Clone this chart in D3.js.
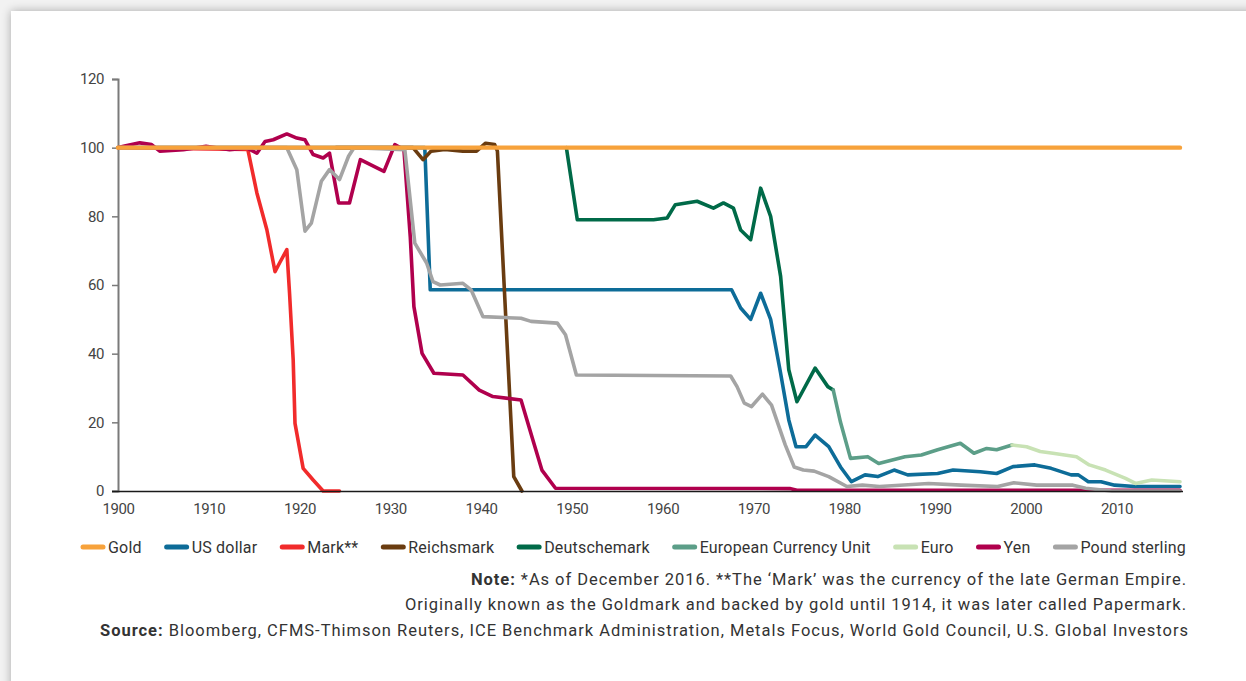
<!DOCTYPE html>
<html><head><meta charset="utf-8">
<script src="https://cdn.jsdelivr.net/npm/d3@7"></script>
<style>
html,body{margin:0;padding:0;background:#f2f2f2;overflow:hidden;}
#card{position:absolute;left:11px;top:11px;width:1300px;height:760px;background:#fff;box-shadow:0 0 9px rgba(0,0,0,0.3);}
svg{position:absolute;left:0;top:0;}
text{font-family:Roboto,"Open Sans",sans-serif;}
</style></head>
<body><div id="card"></div>
<svg id="chart" width="1246" height="681"></svg>
<script>
// ---- data ----
const years = [1900,1910,1920,1930,1940,1950,1960,1970,1980,1990,2000,2010];
const yTicks = [0,20,40,60,80,100,120];
const seriesNames = ["Gold","US dollar","Mark**","Reichsmark","Deutschemark","European Currency Unit","Euro","Yen","Pound sterling"];
const gold = [[1900,100],[2017,100]];
const usDollar = [[1900,100],[1933.8,100],[1934.4,58.6],[1967.6,58.6],[1968.6,53.3],[1969.7,50],[1970.8,57.6],[1971.9,50],[1973,34.3],[1973.9,20.7],[1974.7,12.9],[1975.8,12.9],[1976.8,16.3],[1978.3,12.9],[1979.6,7],[1980.8,2.7],[1982.3,4.7],[1983.7,4.2],[1985.5,6.1],[1987,4.7],[1990.3,5.1],[1992,6.1],[1995,5.6],[1996.8,5.1],[1998.6,7.1],[2001,7.6],[2002.8,6.6],[2005,4.7],[2005.8,4.7],[2006.9,2.7],[2008.3,2.7],[2009.8,1.7],[2012,1.3],[2017,1.3]];
const mark = [[1900,100],[1914.3,99.5],[1915.3,86.8],[1916.4,76.1],[1917.3,63.9],[1917.8,66.4],[1918.6,70.3],[1918.9,57.6],[1919.3,38.2],[1919.5,19.7],[1920.4,6.6],[1921.5,3.2],[1922.6,0],[1924.4,0]];
const reichsmark = [[1924,100],[1932.5,100],[1933.6,96.5],[1934.5,99],[1936,99.5],[1938,99],[1939.5,99],[1940.5,101.3],[1941.5,100.9],[1941.8,99],[1943.6,4.2],[1944.5,0]];
const deutschemark = [[1949.4,100],[1950.6,79],[1959,79],[1960.5,79.5],[1961.4,83.4],[1963.8,84.4],[1965.6,82.4],[1966.7,83.9],[1967.8,82.4],[1968.6,76],[1969.7,73.2],[1970.8,88.2],[1971.9,80],[1973,62.5],[1973.9,35.3],[1974.8,26],[1976.8,35.8],[1978.2,30.4],[1978.8,29.4]];
const ecu = [[1978.8,29.4],[1979.6,20],[1980.7,9.5],[1982.6,10],[1983.8,8],[1986.7,10],[1988.5,10.5],[1990.3,12],[1992.8,13.9],[1994.3,11],[1995.7,12.4],[1996.8,12],[1998.5,13.4]];
const euro = [[1998.5,13.4],[2000.1,12.9],[2001.6,11.5],[2003,11],[2005.6,10],[2007,7.6],[2008.8,6.1],[2011,3.7],[2012.1,2.2],[2013.9,3.2],[2017,2.7]];
const yen = [[1900,100],[1900.6,100.4],[1902.4,101.4],[1903.7,100.9],[1904.6,99],[1907.2,99.4],[1909.7,100.4],[1912.3,99.4],[1914.2,99.9],[1915.3,98.4],[1916.2,101.8],[1917.1,102.3],[1918.6,104],[1919.7,102.8],[1920.6,102.3],[1921.5,98],[1922.6,97],[1923.3,98.4],[1924.3,83.9],[1925.5,83.9],[1926.7,96.5],[1929.3,93.1],[1930.5,100.9],[1931.5,99.4],[1932.2,74],[1932.6,53.7],[1933.5,40.1],[1934.8,34.3],[1938,33.8],[1939.8,29.4],[1941.3,27.5],[1944.4,26.5],[1945.7,14.9],[1946.7,6.1],[1948.2,0.8],[1974,0.7],[1974.8,0.2],[2017,0.2]];
const pound = [[1900,100],[1918.6,100],[1919.7,93.6],[1920.6,75.7],[1921.3,78],[1922.4,90.2],[1923.3,93.6],[1924.4,90.7],[1925.4,97.5],[1926,100],[1931.6,99.4],[1932.7,72.2],[1934,66.4],[1934.7,61],[1935.5,60],[1938,60.5],[1938.9,58.6],[1940.2,50.8],[1944.4,50.3],[1945.5,49.4],[1948.4,48.9],[1949.3,45.5],[1950.5,33.8],[1967.5,33.5],[1968.2,30.4],[1969,25.6],[1969.8,24.6],[1971,28.2],[1972,25],[1973.5,13.5],[1974.5,7],[1975.5,6.1],[1976.7,5.8],[1978.3,4.2],[1980.3,1.3],[1982,1.7],[1983.9,1.3],[1989.3,2.2],[1992.9,1.7],[1996.9,1.3],[1998.7,2.4],[2001.2,1.7],[2005.2,1.7],[2006.6,0.8],[2009.5,0],[2017,0]];
const noteLine1 = ["Note:"," *As of December 2016. **The \u2018Mark\u2019 was the currency of the late German Empire."];
const noteLine2 = "Originally known as the Goldmark and backed by gold until 1914, it was later called Papermark.";
const sourceLine = ["Source:"," Bloomberg, CFMS-Thimson Reuters, ICE Benchmark Administration, Metals Focus, World Gold Council, U.S. Global Investors"];

// ---- styles ----
const colors = {"Gold":"#f7a23b","US dollar":"#0d6c98","Mark**":"#f12b2b","Reichsmark":"#6a3c10","Deutschemark":"#006a48","European Currency Unit":"#5c9e88","Euro":"#c8e2b4","Yen":"#b0004d","Pound sterling":"#a4a4a4"};
const dataByName = {"Gold":gold,"US dollar":usDollar,"Mark**":mark,"Reichsmark":reichsmark,"Deutschemark":deutschemark,"European Currency Unit":ecu,"Euro":euro,"Yen":yen,"Pound sterling":pound};
const drawOrder = ["US dollar","Mark**","Reichsmark","Deutschemark","European Currency Unit","Euro","Yen","Pound sterling","Gold"];

const svg = d3.select("#chart");
const x = d3.scaleLinear().domain([1900,2017]).range([118,1180]);
const y = d3.scaleLinear().domain([0,120]).range([491,79]);

// y axis
const ya = svg.append("g").attr("transform","translate(118,0)")
  .call(d3.axisLeft(y).tickValues(yTicks).tickSize(6).tickPadding(8));
ya.select(".domain").attr("stroke","#7a7a7a").attr("stroke-width",2);
ya.selectAll(".tick line").attr("stroke","#7a7a7a").attr("stroke-width",1.5);
ya.selectAll(".tick text").attr("fill","#444").style("font-size","15px").style("letter-spacing","-0.4px");

// x axis
const xa = svg.append("g").attr("transform","translate(0,491)")
  .call(d3.axisBottom(x).tickValues(years).tickFormat(d3.format("d")).tickSize(0).tickPadding(12));
xa.select(".domain").remove();
xa.selectAll(".tick text").attr("fill","#444").style("font-size","15px").style("letter-spacing","-0.4px");

const line = d3.line().x(d=>x(d[0])).y(d=>y(d[1]));
drawOrder.forEach(n=>{
  svg.append("path").attr("d",line(dataByName[n])).attr("fill","none")
    .attr("stroke",colors[n]).attr("stroke-width", n==="Gold"?4.4:3.6)
    .attr("stroke-linejoin","round").attr("stroke-linecap","round");
});
svg.append("line").attr("x1",112).attr("x2",1183).attr("y1",491.5).attr("y2",491.5)
  .attr("stroke","#1a1a1a").attr("stroke-width",1.6);

// legend
const lg = svg.append("g");
const items = seriesNames.map(n=>{
  const g = lg.append("g");
  g.append("line").attr("x1",0).attr("x2",20).attr("y1",0).attr("y2",0)
    .attr("stroke",colors[n]).attr("stroke-width",5).attr("stroke-linecap","round");
  const t = g.append("text").attr("x",25).attr("y",5.5).text(n)
    .attr("fill","#333").style("font-size","16px").style("letter-spacing","0.2px");
  return {g, w: 25 + t.node().getComputedTextLength()};
});
const legStart = 83, legEnd = 1186;
const totalW = d3.sum(items, d=>d.w);
const gap = (legEnd - legStart - totalW) / (items.length - 1);
let cx = legStart;
items.forEach(it=>{ it.g.attr("transform",`translate(${cx},547)`); cx += it.w + gap; });

// notes
function fitText(sel, target){
  const w = sel.node().getComputedTextLength();
  const n = sel.text().length;
  sel.style("letter-spacing", ((target - w)/n) + "px");
}
const noteSize = "16.5px";
const t1 = svg.append("text").attr("x",1187).attr("y",585).attr("text-anchor","end").attr("fill","#333").style("font-size",noteSize);
t1.append("tspan").attr("font-weight","bold").text(noteLine1[0]);
t1.append("tspan").text(noteLine1[1]);
fitText(t1, 716);
const t2 = svg.append("text").attr("x",1187).attr("y",610).attr("text-anchor","end").attr("fill","#333").style("font-size",noteSize).text(noteLine2);
fitText(t2, 782);
const t3 = svg.append("text").attr("x",1189).attr("y",636).attr("text-anchor","end").attr("fill","#333").style("font-size",noteSize);
t3.append("tspan").attr("font-weight","bold").text(sourceLine[0]);
t3.append("tspan").text(sourceLine[1]);
fitText(t3, 1089);
</script>
</body></html>
